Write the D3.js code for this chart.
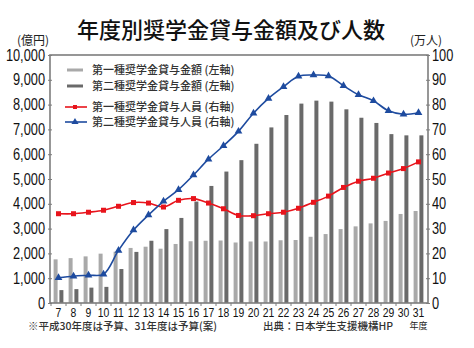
<!DOCTYPE html>
<html><head><meta charset="utf-8">
<script src="https://cdn.jsdelivr.net/npm/d3@7/dist/d3.min.js"></script>
<style>
html,body{margin:0;padding:0;background:#fff;}
svg{display:block;}
</style></head>
<body>
<svg id="chart" width="474" height="348"></svg>
<script>
const categories = ["7","8","9","10","11","12","13","14","15","16","17","18","19","20","21","22","23","24","25","26","27","28","29","30","31"];
const amountType1 = [1760,1810,1880,1990,2070,2220,2270,2190,2380,2490,2510,2520,2440,2480,2480,2530,2540,2670,2780,2980,3090,3210,3310,3590,3710];
const amountType2 = [520,560,620,650,1370,2060,2510,2980,3430,4090,4720,5300,5760,6420,7080,7580,8040,8160,8120,7810,7470,7260,6810,6760,6760];
const peopleType1 = [36.0,36.0,36.6,37.4,39.0,40.5,40.3,38.7,41.4,42.1,40.3,38.0,35.3,35.2,36.0,36.6,38.2,40.6,43.1,46.6,49.1,50.3,52.4,54.2,56.9];
const peopleType2 = [10.2,10.8,11.2,11.6,21.2,29.4,35.5,41.0,45.7,51.6,58.0,63.4,69.2,76.5,82.5,87.2,91.4,91.9,91.5,87.6,84.0,81.5,77.5,76.1,76.7];
const leftTicks = [0,1000,2000,3000,4000,5000,6000,7000,8000,9000,10000];
const rightTicks = [0,10,20,30,40,50,60,70,80,90,100];
const legendLabels = ["第一種奨学金貸与金額 (左軸)","第二種奨学金貸与金額 (左軸)","第一種奨学金貸与人員 (右軸)","第二種奨学金貸与人員 (右軸)"];
const titleText = "年度別奨学金貸与金額及び人数";

const svg = d3.select("#chart");
const L = 50, R = 428, T = 55, B = 303;
const cjk = "'Noto Sans CJK JP','Noto Sans CJK SC',sans-serif";
const num = "'Liberation Sans',Arial,sans-serif";
const SX = 0.8;

const x = d3.scaleBand().domain(categories).range([51, 426]).padding(0);
const x1 = d3.scaleBand().domain(["a","b"]).range([0, x.bandwidth()]).paddingInner(0.31).paddingOuter(0.45);
const yL = d3.scaleLinear().domain([0,10000]).range([B, T]);
const yR = d3.scaleLinear().domain([0,100]).range([B, T]);

const c1 = "#a9a9a9", c2 = "#6a6a6a", red = "#e8141c", blue = "#1e4b9f", frame = "#7d7d7d";

// title
svg.append("text").attr("x", 231).attr("y", 38).attr("text-anchor","middle")
  .style("font-family", cjk).style("font-size","22px").style("font-weight","500").attr("fill","#111")
  .text(titleText);
svg.append("text").attr("x", 33).attr("y", 45).attr("text-anchor","middle")
  .style("font-family", cjk).style("font-size","12px").attr("fill","#222").text("(億円)");
svg.append("text").attr("x", 426).attr("y", 45).attr("text-anchor","middle")
  .style("font-family", cjk).style("font-size","12px").attr("fill","#222").text("(万人)");

// bars
const g = svg.append("g");
g.selectAll("rect.b1").data(categories).enter().append("rect")
  .attr("x", (d)=>x(d)+x1("a")).attr("width", x1.bandwidth())
  .attr("y", (d,i)=>yL(amountType1[i])).attr("height", (d,i)=>B - yL(amountType1[i]))
  .attr("fill", c1);
g.selectAll("rect.b2").data(categories).enter().append("rect")
  .attr("x", (d)=>x(d)+x1("b")).attr("width", x1.bandwidth())
  .attr("y", (d,i)=>yL(amountType2[i])).attr("height", (d,i)=>B - yL(amountType2[i]))
  .attr("fill", c2);

// frame
svg.append("rect").attr("x", L).attr("y", T).attr("width", R-L).attr("height", B-T)
  .attr("fill","none").attr("stroke", frame).attr("stroke-width", 1.6);

// left axis
const axL = svg.append("g").attr("transform", `translate(${L},0)`)
  .call(d3.axisLeft(yL).tickValues(leftTicks).tickSize(3).tickFormat(d3.format(",")));
axL.select(".domain").remove();
axL.selectAll("line").attr("stroke", frame).attr("x2", 2).attr("x1",-2);
axL.selectAll("text").attr("x", -5/SX).attr("transform",`scale(${SX},1)`).attr("fill","#111")
  .style("font-family", num).style("font-size","16px");

// right axis
const axR = svg.append("g").attr("transform", `translate(${R},0)`)
  .call(d3.axisRight(yR).tickValues(rightTicks).tickSize(3));
axR.select(".domain").remove();
axR.selectAll("line").attr("stroke", frame).attr("x1",-2).attr("x2",2);
axR.selectAll("text").attr("x", 4/SX).attr("transform",`scale(${SX},1)`).attr("fill","#111")
  .style("font-family", num).style("font-size","16px");

// bottom axis
const axB = svg.append("g").attr("transform", `translate(0,${B})`)
  .call(d3.axisBottom(x).tickSize(0).tickPadding(5));
axB.select(".domain").remove();
axB.selectAll("text").attr("transform",`scale(${SX},1)`).attr("fill","#111")
  .style("font-family", num).style("font-size","13px");
svg.append("g").selectAll("line").data(categories).enter().append("line")
  .attr("x1", d=>x(d)).attr("x2", d=>x(d)).attr("y1", B).attr("y2", B+3)
  .attr("stroke", frame).attr("stroke-width",1);
svg.append("text").attr("x", x("31")+x.bandwidth()/2).attr("y", 329).attr("text-anchor","middle")
  .style("font-family", cjk).style("font-size","9px").attr("fill","#222").text("年度");

// lines
const cx = (d)=>x(d)+x.bandwidth()/2;
const line1 = d3.line().x((d,i)=>cx(categories[i])).y(d=>yR(d)).curve(d3.curveCatmullRom.alpha(0.5));
svg.append("path").attr("d", line1(peopleType1)).attr("fill","none").attr("stroke", red).attr("stroke-width",1.6);
svg.append("path").attr("d", line1(peopleType2)).attr("fill","none").attr("stroke", blue).attr("stroke-width",1.6);
svg.append("g").selectAll("rect").data(peopleType1).enter().append("rect")
  .attr("x",(d,i)=>cx(categories[i])-2.5).attr("y",d=>yR(d)-2.5).attr("width",5).attr("height",5).attr("fill",red);
const tri = d3.symbol().type(d3.symbolTriangle).size(26);
svg.append("g").selectAll("path").data(peopleType2).enter().append("path")
  .attr("d", tri).attr("transform",(d,i)=>`translate(${cx(categories[i])},${yR(d)})`).attr("fill",blue);

// legend
const lg = svg.append("g");
const rowsY = [70, 86, 107, 122];
lg.append("line").attr("x1",67).attr("x2",83).attr("y1",rowsY[0]).attr("y2",rowsY[0]).attr("stroke",c1).attr("stroke-width",3);
lg.append("line").attr("x1",67).attr("x2",83).attr("y1",rowsY[1]).attr("y2",rowsY[1]).attr("stroke",c2).attr("stroke-width",3);
lg.append("line").attr("x1",65).attr("x2",87).attr("y1",rowsY[2]).attr("y2",rowsY[2]).attr("stroke",red).attr("stroke-width",1.6);
lg.append("rect").attr("x",73).attr("y",rowsY[2]-2).attr("width",4).attr("height",4).attr("fill",red);
lg.append("line").attr("x1",65).attr("x2",87).attr("y1",rowsY[3]).attr("y2",rowsY[3]).attr("stroke",blue).attr("stroke-width",1.6);
lg.append("path").attr("d", d3.symbol().type(d3.symbolTriangle).size(22)).attr("transform",`translate(75,${rowsY[3]})`).attr("fill",blue);
lg.selectAll("text").data(legendLabels).enter().append("text")
  .attr("x", 92).attr("y",(d,i)=>rowsY[i]+4)
  .style("font-family", cjk).style("font-size","11px").style("font-weight","500").attr("fill","#333")
  .text(d=>d);

// footnotes
svg.append("text").attr("x", 28).attr("y", 330)
  .style("font-family", cjk).style("font-size","10.5px").style("font-weight","500").attr("fill","#333")
  .text("※平成30年度は予算、31年度は予算(案)");
svg.append("text").attr("x", 263).attr("y", 330)
  .style("font-family", cjk).style("font-size","10.5px").style("font-weight","500").attr("fill","#333")
  .text("出典：日本学生支援機構HP");
</script>
</body></html>
